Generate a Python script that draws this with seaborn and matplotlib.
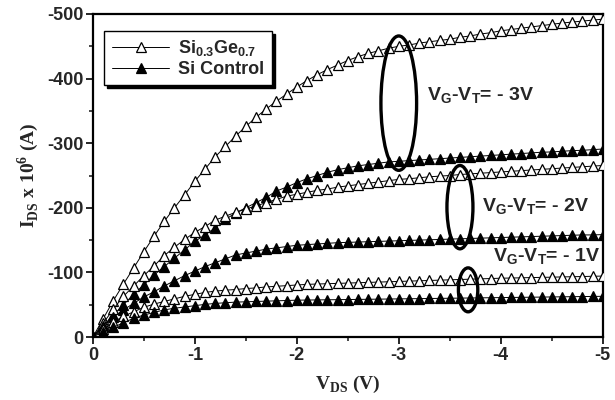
import matplotlib
matplotlib.use("Agg")
import matplotlib.pyplot as plt
from matplotlib.patches import Ellipse
import matplotlib.ticker as mticker
import seaborn as sns
import pandas as pd

# ── Data (magnitudes, plotted as negative values) ─────────
vds = [0.0, -0.1, -0.2, -0.3, -0.4, -0.5, -0.6, -0.7, -0.8, -0.9,
       -1.0, -1.1, -1.2, -1.3, -1.4, -1.5, -1.6, -1.7, -1.8, -1.9,
       -2.0, -2.1, -2.2, -2.3, -2.4, -2.5, -2.6, -2.7, -2.8, -2.9,
       -3.0, -3.1, -3.2, -3.3, -3.4, -3.5, -3.6, -3.7, -3.8, -3.9,
       -4.0, -4.1, -4.2, -4.3, -4.4, -4.5, -4.6, -4.7, -4.8, -4.9, -5.0]

sige_3v = [0, 28, 56, 82, 107, 132, 156, 179, 200, 220,
           241, 260, 279, 295, 311, 326, 340, 353, 365, 376,
           387, 397, 406, 414, 421, 428, 434, 439, 443, 447,
           450, 452, 455, 457, 459, 461, 464, 466, 469, 471,
           474, 476, 478, 480, 482, 484, 486, 487.5, 489, 490.5, 492]
si_3v = [0, 17, 34, 50, 66, 81, 96, 109, 122, 135,
         148, 158, 169, 182, 192, 200, 208, 216, 226, 232,
         239, 245, 250, 255, 259, 262, 265, 267, 269, 271,
         272, 273, 274, 275, 276, 277, 278, 279, 280, 281,
         282, 283, 284, 285, 286, 286.5, 287.5, 288.5, 289, 290, 291]
sige_2v = [0, 21, 43, 63, 79, 95, 110, 126, 139, 151,
           162, 171, 181, 187, 193, 198, 203, 208, 213, 218,
           221, 224, 227, 229, 232, 234, 236, 238, 240, 242,
           244, 245, 246.5, 248, 249, 250, 251.5, 252.5, 253.5, 254.5,
           255.5, 256.5, 257.5, 258.5, 259.5, 260.5, 261.5, 262.5, 263.5, 264.5, 265.5]
si_2v = [0, 17, 31, 42, 52, 62, 70, 79, 87, 95,
         102, 109, 115, 121, 127, 130, 133, 136, 138, 140,
         142, 143, 144, 145, 146, 146.5, 147, 147.5, 148, 148.5,
         149, 149.5, 150, 150.5, 151, 151.5, 152, 152.5, 153, 153.5,
         154, 154.5, 155, 155.5, 156, 156.5, 157, 157.5, 158, 158, 158.5]
sige_1v = [0, 12, 23, 32, 39, 46, 51, 55, 59, 63,
           66, 69, 71, 72.5, 73.5, 75, 76, 77.5, 78.5, 79.5,
           80.5, 81.5, 82, 82.5, 83, 83.5, 84, 84.5, 85, 85.5,
           86, 86.5, 87, 87.5, 88, 88.5, 89, 89.5, 90, 90.5,
           91, 91.3, 91.6, 92, 92.3, 92.6, 93, 93.3, 93.6, 94, 94.3]
si_1v = [0, 8, 15, 22, 29, 34, 38, 42, 44.5, 46.5,
         48.5, 50.5, 52, 53, 54, 54.5, 55, 55.5, 56, 56.5,
         57, 57.2, 57.4, 57.6, 57.8, 58, 58.2, 58.4, 58.6, 58.8,
         59, 59.2, 59.4, 59.6, 59.8, 60, 60.2, 60.4, 60.6, 60.8,
         61, 61.2, 61.4, 61.6, 61.8, 62, 62.2, 62.4, 62.6, 62.8, 63]

# ── Style ─────────────────────────────────────────────────
sns.set_theme(style="ticks")
plt.rcParams.update({
    "font.family": ["Liberation Sans", "DejaVu Sans"],
    "font.weight": "bold",
    "mathtext.fontset": "custom",
    "mathtext.rm": "Liberation Serif",
    "mathtext.bf": "Liberation Serif:bold",
    "mathtext.sf": "Liberation Sans:bold",
    "axes.linewidth": 1.6,
    "axes.edgecolor": "black",
})

fig = plt.figure(figsize=(6.15, 4.0), dpi=100)
ax = fig.add_axes([0.151, 0.1575, 0.829, 0.8075])

series = [
    (sige_3v, "open", "Si$_\\mathsf{0.3}$Ge$_\\mathsf{0.7}$"),
    (si_3v, "filled", "Si Control"),
    (sige_2v, "open", None),
    (si_2v, "filled", None),
    (sige_1v, "open", None),
    (si_1v, "filled", None),
]
for vals, kind, lab in series:
    df = pd.DataFrame({"V": vds, "I": [-v for v in vals]})
    sns.lineplot(data=df, x="V", y="I", ax=ax, color="black", lw=0.7,
                 marker="^", markersize=6.8, markeredgewidth=0.9,
                 markeredgecolor="black",
                 markerfacecolor="white" if kind == "open" else "black",
                 label=lab, legend=False, zorder=3)

ax.set_xlim(0, -5)
ax.set_ylim(0, -500)
ax.xaxis.set_major_locator(mticker.MultipleLocator(1))
ax.xaxis.set_minor_locator(mticker.MultipleLocator(0.5))
ax.yaxis.set_major_locator(mticker.MultipleLocator(100))
ax.yaxis.set_minor_locator(mticker.MultipleLocator(50))
ax.tick_params(which="major", direction="out", length=5, width=1.4,
               labelsize=13, pad=2)
ax.tick_params(which="minor", direction="out", length=3, width=1.2)
ax.xaxis.set_major_formatter(mticker.FuncFormatter(lambda v, p: f"{v:g}"))
ax.yaxis.set_major_formatter(mticker.FuncFormatter(lambda v, p: f"{v:g}"))
for t in ax.get_xticklabels() + ax.get_yticklabels():
    t.set_fontweight("bold")

ax.set_xlabel("V$_{\\mathbf{DS}}$ (V)", fontfamily="Liberation Serif",
              fontweight="bold", fontsize=14, labelpad=7)
ax.set_ylabel("I$_{\\mathbf{DS}}$ x 10$^{\\mathbf{6}}$ (A)", fontfamily="Liberation Serif",
              fontweight="bold", fontsize=14, labelpad=4)

# ellipses marking the bias groups
ax.add_patch(Ellipse((-3.0, -362), 0.35, 208, fill=False, lw=2.4, ec="black", zorder=4))
ax.add_patch(Ellipse((-3.6, -201), 0.255, 129, fill=False, lw=2.4, ec="black", zorder=4))
ax.add_patch(Ellipse((-3.68, -73), 0.19, 68, fill=False, lw=2.4, ec="black", zorder=4))

ax.text(-3.28, -373, "V$_\\mathsf{G}$-V$_\\mathsf{T}$= - 3V", fontsize=14,
        fontweight="bold", va="center", ha="left")
ax.text(-3.82, -202, "V$_\\mathsf{G}$-V$_\\mathsf{T}$= - 2V", fontsize=14,
        fontweight="bold", va="center", ha="left")
ax.text(-3.92, -124, "V$_\\mathsf{G}$-V$_\\mathsf{T}$= - 1V", fontsize=14,
        fontweight="bold", va="center", ha="left")

leg = ax.legend(loc="upper left", bbox_to_anchor=(0.005, 0.975), fontsize=13,
                frameon=True, fancybox=False, edgecolor="black",
                shadow={"color": "black", "alpha": 1}, handlelength=3.2,
                borderpad=0.4, labelspacing=0.15, handletextpad=0.5)
leg.get_frame().set_linewidth(1.0)
for t in leg.get_texts():
    t.set_fontweight("bold")

fig.savefig("out.png", dpi=100)
plt.close()
